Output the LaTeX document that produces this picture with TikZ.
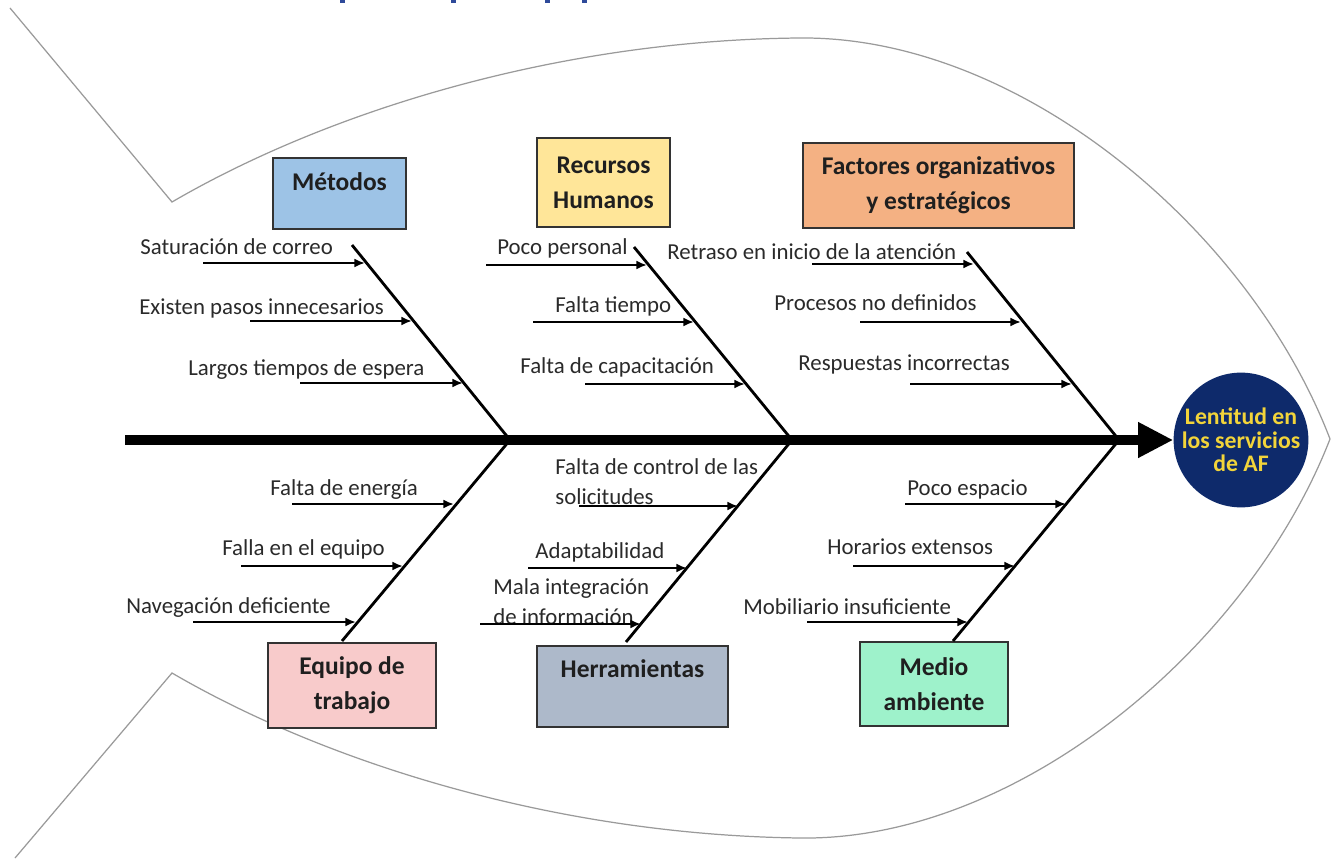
\documentclass[tikz,border=0pt]{standalone}
\usepackage{fontspec}
\setmainfont{Carlito}
\usetikzlibrary{arrows.meta}
\definecolor{metcol}{HTML}{9DC3E6}
\definecolor{rhcol}{HTML}{FFE699}
\definecolor{focol}{HTML}{F4B183}
\definecolor{eqcol}{HTML}{F8CBCB}
\definecolor{hecol}{HTML}{ADB9CA}
\definecolor{macol}{HTML}{9EF2CB}
\definecolor{headcol}{HTML}{0E2A6B}
\definecolor{headtxt}{HTML}{F2D43A}
\definecolor{fishcol}{HTML}{9A9A9A}
\definecolor{lblcol}{HTML}{2A2A2A}
\definecolor{topblue}{HTML}{2F4A9A}

\begin{document}
\begin{tikzpicture}[x=0.02cm,y=-0.02cm]
\tikzstyle{every node}+=[inner sep=0pt]
\tikzstyle{fish}=[draw=fishcol, line width=0.7pt]
\tikzstyle{spine}=[line width=5.7pt, -{Triangle[length=20pt,width=19pt]}]
\tikzstyle{bone}=[line width=1.6pt]
\tikzstyle{sub}=[line width=1.6pt, -{Latex[length=6pt,width=5pt]}]
\tikzstyle{box}=[draw=black!80, line width=0.8pt, align=center, text=black!88,
  font=\bfseries\fontsize{14.5}{20}\selectfont]
\tikzstyle{lbl}=[anchor=base west, text=lblcol, font=\fontsize{13}{16}\selectfont]
\tikzstyle{lbltwo}=[anchor=west, align=left, text=lblcol, font=\fontsize{13}{17}\selectfont]
\useasboundingbox (0,0) rectangle (1341,858);
\fill[white] (0,0) rectangle (1341,858);
\fill[topblue] (340,0) rectangle (345,3);
\fill[topblue] (451,0) rectangle (456,3);
\fill[topblue] (545,0) rectangle (550,3);
\fill[topblue] (582,0) rectangle (587,3);
\draw[fish] (10,8) -- (172,202) .. controls (330,110) and (560,40) .. (800,38)
  .. controls (1020,36) and (1250,230) .. (1330,439)
  .. controls (1250,645) and (1020,841) .. (800,838)
  .. controls (560,835) and (330,765) .. (172,673) -- (15,858);
\node[circle, fill=headcol, minimum size=2.64cm, align=center, text=headtxt,
  font=\bfseries\fontsize{13.5}{13.5}\selectfont] (efecto) at (1241,440) {Lentitud en\\los servicios\\de AF};
\coordinate (cola) at (125,440);
\coordinate (j1) at (510,440);
\coordinate (j2) at (792,440);
\coordinate (j3) at (1119,440);
\draw[spine] (cola) -- (efecto);
\node[box, fill=metcol, minimum width=2.66cm, minimum height=1.42cm] (met) at (339.5,193.5) {Métodos\\[-6.5pt]~};
\node[box, fill=rhcol, minimum width=2.66cm, minimum height=1.78cm] (rh) at (603.5,182.5) {Recursos\\Humanos};
\node[box, fill=focol, minimum width=5.42cm, minimum height=1.70cm] (fo) at (938.5,185.5) {Factores organizativos\\y estratégicos};
\node[box, fill=eqcol, minimum width=3.36cm, minimum height=1.70cm] (eq) at (352,685.5) {Equipo de\\trabajo};
\node[box, fill=hecol, minimum width=3.82cm, minimum height=1.62cm] (he) at (632.5,686.5) {Herramientas\\~};
\node[box, fill=macol, minimum width=2.96cm, minimum height=1.68cm] (ma) at (934,684) {Medio\\ambiente};
\draw[bone] (352,245) coordinate (met0) -- (j1);
\draw[bone] (634,247) coordinate (rh0) -- (j2);
\draw[bone] (967,252) coordinate (fo0) -- (j3);
\draw[bone] (j1) -- (342,641) coordinate (eq0);
\draw[bone] (j2) -- (626,642) coordinate (he0);
\draw[bone] (j3) -- (953,641) coordinate (ma0);
\node[lbl] (met1) at (140,255) {Saturación de correo};
\node[lbl] (met2) at (139,314) {Existen pasos innecesarios};
\node[lbl] (met3) at (188,375) {Largos tiempos de espera};
\draw[sub] (203,263) coordinate (met1a) -- (365,263) coordinate (met1b);
\draw[sub] (250,321) coordinate (met2a) -- (412,321) coordinate (met2b);
\draw[sub] (300,383) coordinate (met3a) -- (463,383) coordinate (met3b);
\node[lbl] (rh1) at (497,255) {Poco personal};
\node[lbl] (rh2) at (555,312) {Falta tiempo};
\node[lbl] (rh3) at (520,373) {Falta de capacitación};
\draw[sub] (486,265) coordinate (rh1a) -- (647,265) coordinate (rh1b);
\draw[sub] (533,322) coordinate (rh2a) -- (694,322) coordinate (rh2b);
\draw[sub] (585,384) coordinate (rh3a) -- (745,384) coordinate (rh3b);
\node[lbl] (fo1) at (667,259) {Retraso en inicio de la atención};
\node[lbl] (fo2) at (774,310) {Procesos no definidos};
\node[lbl] (fo3) at (798,370) {Respuestas incorrectas};
\draw[sub] (812,264) coordinate (fo1a) -- (974,264) coordinate (fo1b);
\draw[sub] (860,322) coordinate (fo2a) -- (1021,322) coordinate (fo2b);
\draw[sub] (910,384) coordinate (fo3a) -- (1072,384) coordinate (fo3b);
\node[lbl] (eq1) at (270,495) {Falta de energía};
\node[lbl] (eq2) at (222,555) {Falla en el equipo};
\node[lbl] (eq3) at (126,613) {Navegación deficiente};
\draw[sub] (292,504) coordinate (eq1a) -- (454,504) coordinate (eq1b);
\draw[sub] (241,566) coordinate (eq2a) -- (403,566) coordinate (eq2b);
\draw[sub] (193,622) coordinate (eq3a) -- (356,622) coordinate (eq3b);
\node[lbltwo] (he1) at (555,482) {Falta de control de las\\solicitudes};
\node[lbl] (he2) at (535,558) {Adaptabilidad};
\node[lbltwo] (he3) at (493,602) {Mala integración\\de información};
\draw[sub] (579,506) coordinate (he1a) -- (738,506) coordinate (he1b);
\draw[sub] (528,568) coordinate (he2a) -- (687,568) coordinate (he2b);
\draw[sub] (480,624) coordinate (he3a) -- (641,624) coordinate (he3b);
\node[lbl] (ma1) at (907,495) {Poco espacio};
\node[lbl] (ma2) at (827,554) {Horarios extensos};
\node[lbl] (ma3) at (743,614) {Mobiliario insuficiente};
\draw[sub] (905,504) coordinate (ma1a) -- (1066,504) coordinate (ma1b);
\draw[sub] (853,566) coordinate (ma2a) -- (1015,566) coordinate (ma2b);
\draw[sub] (807,622) coordinate (ma3a) -- (968,622) coordinate (ma3b);
\end{tikzpicture}
\end{document}
